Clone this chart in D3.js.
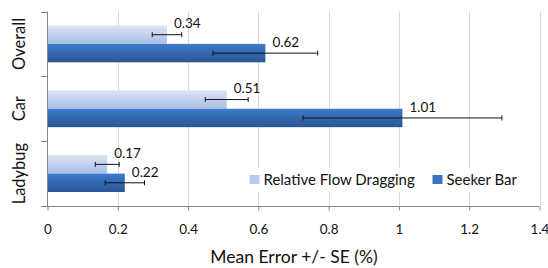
<!DOCTYPE html>
<html>
<head>
<meta charset="utf-8">
<script src="https://cdn.jsdelivr.net/npm/d3@7"></script>
<style>
  body { margin: 0; background: #fff; }
  svg text { font-family: Lato, "Open Sans", sans-serif; fill: #111; }
</style>
</head>
<body>
<svg id="chart" width="548" height="268"></svg>
<script>
// values
var categories = ["Overall", "Car", "Ladybug"];
var seriesNames = ["Relative Flow Dragging", "Seeker Bar"];
var flowValues = [0.34, 0.51, 0.17];
var flowErrors = [0.042, 0.061, 0.034];
var seekerValues = [0.62, 1.01, 0.22];
var seekerErrors = [0.149, 0.283, 0.056];
var xTicks = [0, 0.2, 0.4, 0.6, 0.8, 1, 1.2, 1.4];

var svg = d3.select("#chart");
var plotLeft = 47.5, plotRight = 539.5, plotTop = 11.5, plotBottom = 206;

var x = d3.scaleLinear().domain([0, 1.4]).range([plotLeft, plotRight]);
var y = d3.scaleBand().domain(categories).range([plotTop, plotBottom]);
var ySub = d3.scaleBand().domain(seriesNames).range([0, y.bandwidth()]).paddingOuter(0.76);

var defs = svg.append("defs");
function grad(id, c1, c2) {
  var g = defs.append("linearGradient").attr("id", id)
    .attr("x1", 0).attr("y1", 0).attr("x2", 0).attr("y2", 1);
  g.append("stop").attr("offset", "0%").attr("stop-color", c1);
  g.append("stop").attr("offset", "100%").attr("stop-color", c2);
}
grad("gLight", "#dce4f4", "#a8bee7");
grad("gDark", "#3d7bcc", "#2a5694");
var fills = { "Relative Flow Dragging": "url(#gLight)", "Seeker Bar": "url(#gDark)" };
var legendFills = { "Relative Flow Dragging": "#b7c9ec", "Seeker Bar": "#3a74c4" };

// gridlines
svg.append("g").selectAll("line").data(xTicks.slice(1)).enter().append("line")
  .attr("x1", function(d) { return Math.round(x(d)) + 0.5; })
  .attr("x2", function(d) { return Math.round(x(d)) + 0.5; })
  .attr("y1", plotTop).attr("y2", plotBottom)
  .attr("stroke", "#d9d9d9").attr("stroke-width", 1);

var rows = categories.map(function(c, i) {
  return [
    { cat: c, name: seriesNames[0], v: flowValues[i], e: flowErrors[i] },
    { cat: c, name: seriesNames[1], v: seekerValues[i], e: seekerErrors[i] }
  ];
});
var data = [].concat.apply([], rows);

var bar = svg.append("g").selectAll("g").data(data).enter().append("g")
  .attr("transform", function(d) { return "translate(0," + (y(d.cat) + ySub(d.name)) + ")"; });

bar.append("rect")
  .attr("x", x(0) + 0.5)
  .attr("y", 0)
  .attr("width", function(d) { return x(d.v) - x(0) - 0.5; })
  .attr("height", ySub.bandwidth())
  .attr("fill", function(d) { return fills[d.name]; });

var h = ySub.bandwidth() / 2;
bar.append("line")
  .attr("x1", function(d) { return x(d.v - d.e); })
  .attr("x2", function(d) { return x(d.v + d.e); })
  .attr("y1", h).attr("y2", h)
  .attr("stroke", "#111").attr("stroke-width", 1);
[-1, 1].forEach(function(s) {
  bar.append("line")
    .attr("x1", function(d) { return x(d.v + s * d.e); })
    .attr("x2", function(d) { return x(d.v + s * d.e); })
    .attr("y1", h - 2.5).attr("y2", h + 2.5)
    .attr("stroke", "#111").attr("stroke-width", 1);
});

bar.append("text")
  .attr("x", function(d) { return x(d.v) + 7; })
  .attr("y", h - 11)
  .attr("dy", "0.35em")
  .style("font-size", "13.5px")
  .text(function(d) { return d.v.toFixed(2); });

// left axis
svg.append("line").attr("x1", plotLeft).attr("x2", plotLeft).attr("y1", plotTop).attr("y2", plotBottom)
  .attr("stroke", "#868686");
var edges = categories.map(function(c) { return y(c); }).concat([plotBottom]);
svg.append("g").selectAll("line").data(edges).enter().append("line")
  .attr("x1", plotLeft - 6.5).attr("x2", plotLeft)
  .attr("y1", function(d) { return Math.round(d) + 0.5; })
  .attr("y2", function(d) { return Math.round(d) + 0.5; })
  .attr("stroke", "#868686");
svg.append("g").selectAll("text").data(categories).enter().append("text")
  .attr("transform", function(c) { return "translate(19," + (y(c) + y.bandwidth() / 2) + ") rotate(-90)"; })
  .attr("text-anchor", "middle").attr("dy", "0.35em")
  .style("font-size", "16.5px")
  .text(function(c) { return c; });

// bottom axis
var xAxis = svg.append("g").attr("transform", "translate(0," + (plotBottom + 0.5) + ")")
  .call(d3.axisBottom(x).tickValues(xTicks).tickSizeInner(4).tickSizeOuter(0).tickPadding(14)
    .tickFormat(function(d) { return String(d); }));
xAxis.select(".domain").remove();
xAxis.selectAll(".tick line").attr("stroke", "#868686");
xAxis.selectAll(".tick text").style("font-size", "13.5px").style("font-family", "Lato, sans-serif").attr("fill", "#111");
svg.append("line").attr("x1", plotLeft - 6.5).attr("x2", plotRight).attr("y1", plotBottom + 0.5).attr("y2", plotBottom + 0.5)
  .attr("stroke", "#868686");

svg.append("text").attr("x", 294).attr("y", 257).attr("text-anchor", "middle").attr("dy", "0.35em")
  .style("font-size", "17.5px").text("Mean Error +/- SE (%)");

// legend
var legend = svg.append("g");
legend.append("rect").attr("x", 244).attr("y", 168).attr("width", 280).attr("height", 24).attr("fill", "#fff");
var legendX = [249.5, 432.5];
seriesNames.forEach(function(n, i) {
  legend.append("rect").attr("x", legendX[i]).attr("y", 175).attr("width", 10).attr("height", 9)
    .attr("fill", legendFills[n]);
  legend.append("text").attr("x", legendX[i] + 14).attr("y", 179.5).attr("dy", "0.35em")
    .style("font-size", "15px").text(n);
});
</script>
</body>
</html>
